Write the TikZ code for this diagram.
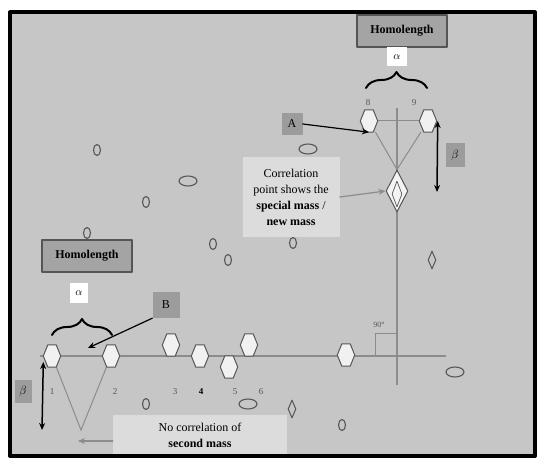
\documentclass[tikz,border=0pt]{standalone}
\usepackage{fontspec}
\setmainfont{Liberation Serif}
\usetikzlibrary{arrows.meta,shapes.geometric,calc,decorations.pathreplacing,backgrounds}
\definecolor{bg}{HTML}{C6C6C6}
\definecolor{lgray}{HTML}{8C8C8C}
\definecolor{edge}{HTML}{555555}
\definecolor{tagfill}{HTML}{9C9C9C}
\definecolor{notefill}{HTML}{DCDCDC}
\tikzset{
  every picture/.style={line join=round, line cap=round, >=Stealth},
  mass/.style={rectangle, minimum width=17pt, minimum height=22pt, inner sep=0pt},
  hexa/.style={draw=edge, line width=1pt, fill=white!75!bg},
  speck/.style={ellipse, draw=edge, line width=1.1pt, inner sep=0pt, minimum width=7pt, minimum height=11pt},
  flat/.style={speck, minimum width=18pt, minimum height=10pt},
  kite/.style={diamond, draw=edge, line width=1pt, inner sep=0pt, minimum width=8pt, minimum height=18pt},
  title/.style={draw=edge, line width=1.2pt, fill=tagfill!80!bg, font=\bfseries\fontsize{12}{13}\selectfont, minimum width=90pt, minimum height=32pt},
  tag/.style={fill=tagfill, font=\fontsize{12}{13}\selectfont, inner sep=0pt},
  alphabox/.style={fill=white, font=\fontsize{11}{12}\selectfont, inner sep=0pt},
  note/.style={fill=notefill, align=center, font=\fontsize{12}{16}\selectfont, inner sep=3pt},
  num/.style={text=edge, font=\fontsize{9}{10}\selectfont},
  axis/.style={draw=lgray, line width=1.5pt},
  link/.style={draw=lgray, line width=1pt},
  pointer/.style={-{Stealth[length=7pt,width=6pt]}, line width=1.2pt},
  span/.style={{Stealth[length=7pt,width=6pt]}-{Stealth[length=7pt,width=6pt]}, line width=1.5pt},
  curly/.style={decorate, decoration={brace, amplitude=16pt}, line width=2pt},
}

\begin{document}
\begin{tikzpicture}[x=1pt,y=-1pt]
\useasboundingbox (0,0) rectangle (539,460);
% masses on the two lines
\node[mass] (m8) at (369,121) {};
\node[mass] (m9) at (428,121) {};
\node[mass] (m1) at (52,356) {};
\node[mass] (m2) at (111,356) {};
\node[mass] (m3) at (171,345) {};
\node[mass] (m4) at (200,356) {};
\node[mass] (m5) at (229,367) {};
\node[mass] (m6) at (249,345) {};
\node[mass] (m7) at (346,355) {};
\foreach \m in {m8,m9,m1,m2,m3,m4,m5,m6,m7}{
  \path[hexa] (\m.west) -- ($(\m.north west)+(4.5,0)$) -- ($(\m.north east)+(-4.5,0)$) -- (\m.east)
    -- ($(\m.south east)+(-4.5,0)$) -- ($(\m.south west)+(4.5,0)$) -- cycle;}
\node[diamond, draw=edge, line width=1pt, fill=white!80!bg, inner sep=0pt, minimum width=22pt, minimum height=42pt] (dia) at (397,191) {};
\node[diamond, draw=edge, line width=0.7pt, inner sep=0pt, minimum width=10pt, minimum height=26pt] (dia2) at (397,194) {};
% scattered masses
\foreach \p in {(97,150),(146,202),(87,233),(213,244),(228,260),(293,243),(146,404),(342,425)}{\node[speck] at \p {};}
\foreach \p in {(188,181),(308,149),(455,372),(248,404)}{\node[flat] at \p {};}
\foreach \p in {(432,260),(292,409)}{\node[kite] at \p {};}
% labels
\node[title] (h1) at (402,31) {Homolength};
\node[title] (h2) at (87,256) {Homolength};
\node[alphabox, minimum width=20pt, minimum height=19pt] (a1) at (397,57) {$\alpha$};
\node[alphabox, minimum width=18pt, minimum height=20pt] (a2) at (79,293) {$\alpha$};
\node[tag, minimum width=21pt, minimum height=22pt] (A) at (292,124) {A};
\node[tag, minimum width=27pt, minimum height=26pt] (B) at (166,305) {B};
\node[tag, minimum width=19pt, minimum height=24pt] (b1) at (455,155) {$\beta$};
\node[tag, minimum width=17pt, minimum height=23pt] (b2) at (23,391) {$\beta$};
\node[note, minimum width=97pt, minimum height=79pt] (cor) at (291,197) {Correlation\\point shows the\\\textbf{special mass} /\\\textbf{new mass}};
\node[note, minimum width=174pt, minimum height=40pt] (nc) at (200,435) {No correlation of\\\textbf{second mass}};
\node[num] (n8) at (368,103) {8};
\node[num] (n9) at (414,103) {9};
\foreach \n/\x in {1/52,2/115,3/175,5/235,6/261}{\node[num] (n\n) at (\x,392) {\n};}
\node[num, text=black, font=\bfseries\fontsize{9}{10}\selectfont] (n4) at (201,392) {4};
\node[font=\fontsize{8}{9}\selectfont, text=edge] (deg) at (379,325) {90°};
\coordinate (vpt) at (81,430);
\coordinate (bpt) at (88,348);
\coordinate (npt) at (78,441);
\coordinate (t9) at (437,192);
\coordinate (t1) at (42,430);
% arrows
\draw[pointer] (A.east) -- (m8.south);
\draw[pointer] (B.south west) -- (bpt);
\draw[pointer, lgray] (cor.east) -- (dia.west);
\draw[pointer, lgray] (nc.west |- npt) -- (npt);
\draw[span] ([xshift=1pt]m9.east) -- (t9);
\draw[span] (m1.west |- 0,362) -- (t1);
\draw[curly] (366,88) -- (427,88);
\draw[curly] (52,335) -- (112,335);
\begin{scope}[on background layer]
\fill[bg] (10,12.5) rectangle (535,456);
\draw[axis] (397,108) -- (397,385);
\draw[axis] (40,356) -- (446,356);
\draw[link] (m8) -- (m9);
\draw[link] (m8) -- (dia.north);
\draw[link] (m9) -- (dia.north);
\draw[link] (m1) -- (vpt) -- (m2);
\draw[link] (375,355) -- (375,333) -- (396,333);
\end{scope}
\draw[line width=4pt] (10,12.5) rectangle (535,456);
\end{tikzpicture}
\end{document}
